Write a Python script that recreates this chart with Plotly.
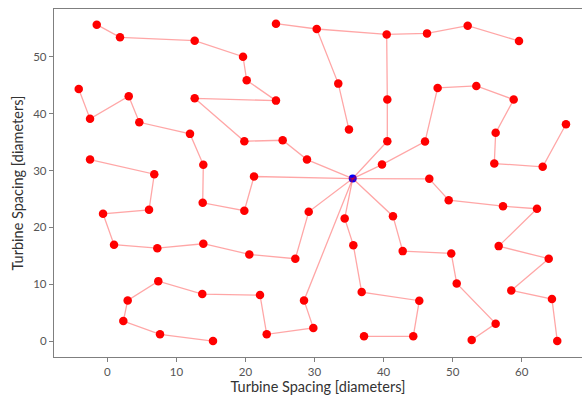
import plotly.graph_objects as go

# Turbine / substation coordinates (index 0 = substation hub)
node_x = [35.53,
          21.24, 19.84, 13.81, 13.90, 11.97, 4.63, 3.10, -2.50, -4.14,
          28.91, 25.39, 19.84, 12.65, 24.42, 20.18, 19.65, 12.65, 1.84, -1.53,
          40.54, 40.54, 40.45, 46.29, 52.18, 59.61, 30.32, 24.42, 33.44, 34.99,
          39.77, 46.00, 47.83, 53.43, 58.84, 56.23, 56.03, 63.04, 66.41,
          46.62, 49.43, 57.29, 62.21, 56.67, 63.91, 58.49, 64.38, 65.15,
          41.36, 42.77, 49.80, 50.59, 56.23, 52.76,
          34.37, 35.62, 36.83, 45.17, 44.30, 37.17,
          29.16, 27.22, 20.56, 13.90, 7.24, 0.97, -0.62, 6.04, 6.80, -2.50,
          28.48, 29.83, 23.08, 22.11, 13.75, 7.38, 2.95, 2.32, 7.63, 15.30]
node_y = [28.59,
          28.95, 22.92, 24.32, 31.00, 36.45, 38.49, 43.06, 39.09, 44.36,
          31.93, 35.33, 35.15, 42.71, 42.30, 45.87, 50.03, 52.85, 53.43, 55.66,
          35.15, 42.48, 53.95, 54.13, 55.48, 52.79, 54.90, 55.83, 45.29, 37.20,
          31.05, 35.10, 44.53, 44.88, 42.48, 36.63, 31.23, 30.65, 38.14,
          28.54, 24.78, 23.73, 23.27, 16.70, 14.48, 8.91, 7.38, 0.00,
          21.97, 15.82, 15.41, 10.14, 3.06, 0.18,
          21.56, 16.87, 8.61, 7.10, 0.83, 0.83,
          22.74, 14.48, 15.24, 17.12, 16.34, 16.94, 22.39, 23.09, 29.35, 31.93,
          7.15, 2.29, 1.18, 8.08, 8.26, 10.54, 7.15, 3.51, 1.18, 0.00]

# Cable strings as sequences of node indices
cable_paths = [
    [0, 1, 2, 3, 4, 5, 6, 7, 8, 9],
    [0, 10, 11, 12, 13, 14, 15, 16, 17, 18, 19],
    [0, 20, 21, 22, 23, 24, 25],
    [22, 26, 27],
    [26, 28, 29],
    [0, 30, 31, 32, 33, 34, 35, 36, 37, 38],
    [0, 39, 40, 41, 42, 43, 44, 45, 46, 47],
    [0, 48, 49, 50, 51, 52, 53],
    [0, 54, 55, 56, 57, 58, 59],
    [0, 60, 61, 62, 63, 64, 65, 66, 67, 68, 69],
    [0, 70, 71, 72, 73, 74, 75, 76, 77, 78, 79],
]

line_x, line_y = [], []
for path in cable_paths:
    for i in path:
        line_x.append(node_x[i])
        line_y.append(node_y[i])
    line_x.append(None)
    line_y.append(None)

FONT = "Lato"

fig = go.Figure()
fig.add_trace(go.Scatter(x=[node_x[0]], y=[node_y[0]], mode="markers",
                         marker=dict(color="#0000ff", size=8, line=dict(width=0)),
                         showlegend=False, hoverinfo="skip"))
fig.add_trace(go.Scatter(x=line_x, y=line_y, mode="lines",
                         line=dict(color="rgba(255,0,0,0.35)", width=1.3),
                         showlegend=False, hoverinfo="skip"))
fig.add_trace(go.Scatter(x=node_x[1:], y=node_y[1:], mode="markers",
                         marker=dict(color="#ff0000", size=8.5, line=dict(width=0)),
                         showlegend=False))

axis_common = dict(showgrid=False, zeroline=False, showline=True,
                   linecolor="#7f7f7f", linewidth=1.3, automargin=False,
                   ticks="outside", ticklen=4, tickwidth=1, tickcolor="#7f7f7f",
                   tickfont=dict(family=FONT, size=11.5, color="#555555"),
                   dtick=10)

fig.update_layout(
    width=582, height=399,
    margin=dict(l=54, r=0, t=9, b=42),
    paper_bgcolor="white", plot_bgcolor="white",
    xaxis=dict(range=[-7.72, 68.73], mirror=True,
               title=dict(text="Turbine Spacing [diameters]", standoff=4,
                          font=dict(family=FONT, size=14.5, color="#333333")),
               **axis_common),
    yaxis=dict(range=[-2.81, 58.42],
               title=dict(text="Turbine Spacing [diameters]", standoff=6,
                          font=dict(family=FONT, size=14.5, color="#333333")),
               **axis_common),
)

fig.write_html("out.html",
               config={"displayModeBar": False},
               post_script="document.body.style.margin='0';document.body.style.overflow='hidden';")
